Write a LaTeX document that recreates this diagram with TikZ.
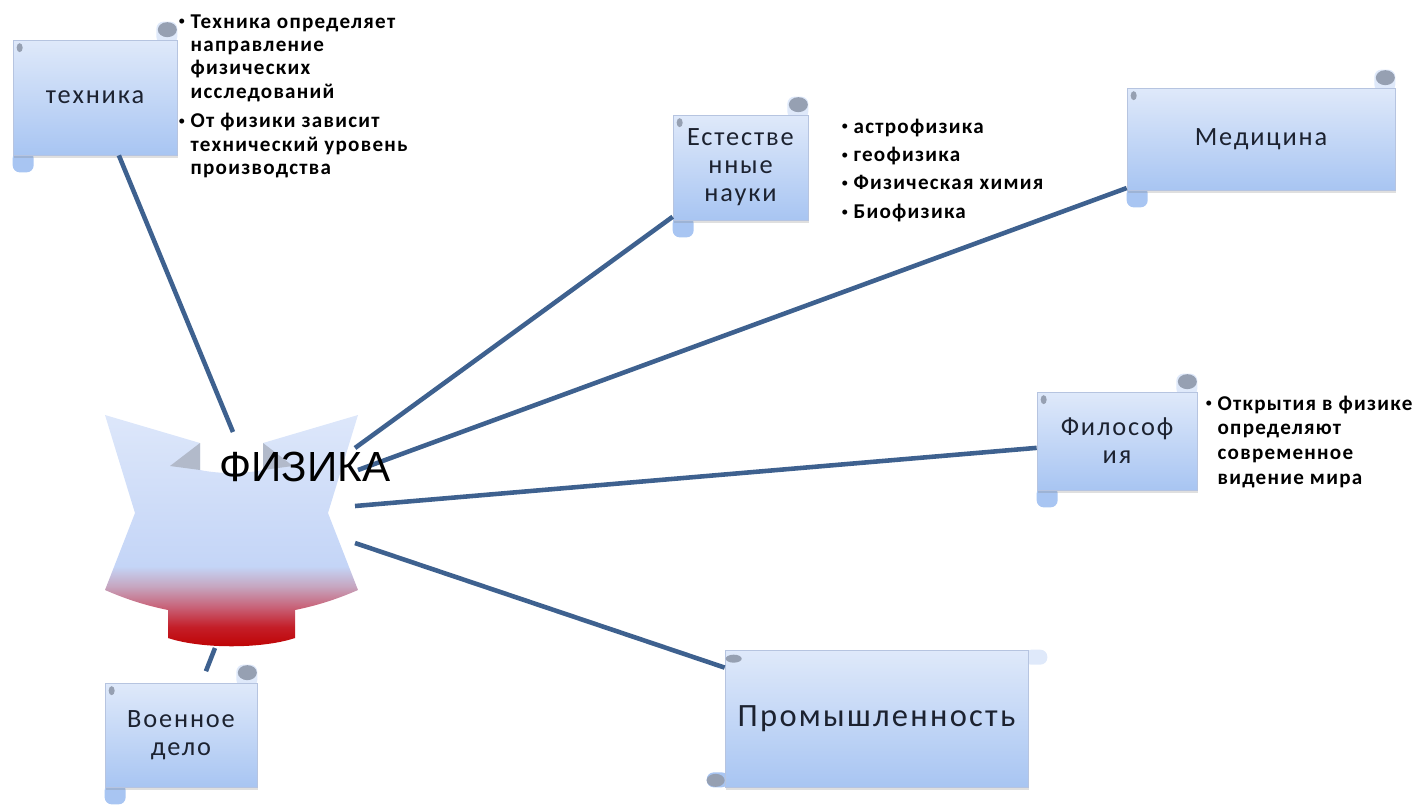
\documentclass[tikz,border=0pt]{standalone}
\usepackage{fontspec}
\setmainfont{Carlito}
\newfontfamily\arialfont{Liberation Sans}
\usetikzlibrary{calc,backgrounds,shadows}

\definecolor{scrolltop}{RGB}{223,233,250}
\definecolor{scrollbot}{RGB}{168,197,242}
\definecolor{scrolledge}{RGB}{182,196,224}
\definecolor{curlgrey}{RGB}{150,160,178}
\definecolor{foldgrey}{RGB}{178,186,202}
\definecolor{linkblue}{RGB}{62,97,143}
\definecolor{labeltext}{RGB}{28,34,48}
\definecolor{physA}{RGB}{190,0,0}
\definecolor{physB}{RGB}{196,30,40}
\definecolor{physC}{RGB}{200,100,122}
\definecolor{physD}{RGB}{198,166,192}
\definecolor{physE}{RGB}{196,213,247}
\definecolor{physF}{RGB}{221,231,250}

\pgfdeclareverticalshading{physfill}{100bp}{color(0bp)=(physA); color(25bp)=(physA);
  color(29.7bp)=(physB); color(34.1bp)=(physC); color(38.4bp)=(physD);
  color(42.7bp)=(physE); color(75bp)=(physF); color(100bp)=(physF)}

\tikzset{
  scroll/.style={rectangle, draw=scrolledge, line width=0.4pt,
    top color=scrolltop, bottom color=scrollbot, align=center, text=labeltext,
    font=\addfontfeature{LetterSpace=7}\fontsize{15}{16}\selectfont, inner sep=2pt,
    drop shadow={opacity=0.25, shadow xshift=0.6pt, shadow yshift=-1.6pt}},
  tabtop/.style={fill=scrolltop},
  tabbot/.style={fill=scrollbot},
  curl/.style={fill=curlgrey},
  link/.style={draw=linkblue, line width=2.6pt},
  notes/.style={anchor=base west, inner sep=0pt, text=black},
}

\newcommand{\bul}{\raisebox{0.1em}{\mdseries\fontsize{8}{8}\selectfont •}}

% rolled ends of an upright scroll
\newcommand{\vcurls}[1]{%
  \begin{scope}[on background layer]
    \fill[tabtop, rounded corners=4pt] ($(#1.north east)+(-21,4)$) rectangle ($(#1.north east)+(0,-18)$);
    \fill[tabbot, rounded corners=4pt] ($(#1.south west)+(0,-4)$) rectangle ($(#1.south west)+(21,17)$);
  \end{scope}
  \fill[curl] ($(#1.north east)+(-10,-10)$) ellipse[x radius=9.5, y radius=7.5];
  \fill[curl] ($(#1.north west)+(7,8)$) ellipse[x radius=3, y radius=4.5];
}
% rolled ends of a lying scroll
\newcommand{\hcurls}[1]{%
  \begin{scope}[on background layer]
    \fill[tabtop, rounded corners=4pt] ($(#1.north east)+(-4,0)$) rectangle ($(#1.north east)+(19,15)$);
    \fill[tabbot, rounded corners=4pt] ($(#1.south west)+(-18,-15)$) rectangle ($(#1.south west)+(4,0)$);
  \end{scope}
  \fill[curl] ($(#1.south west)+(-9,-7)$) ellipse[x radius=9, y radius=6.5];
  \fill[curl] ($(#1.north west)+(9,9)$) ellipse[x radius=8, y radius=4];
}

\begin{document}
\begin{tikzpicture}[x=0.02cm, y=-0.02cm]
\useasboundingbox (0,0) rectangle (1416,806);

% central figure
\shade[shading=physfill] (105,415) -- (200,443) -- (200,470) .. controls (220,474) and (243,474) .. (263,470)
  -- (263,443) -- (358,415) -- (328,513) -- (358,590) .. controls (335,600) and (315,606) .. (295,610)
  -- (295,638) .. controls (262,649) and (201,649) .. (168,638) -- (168,610)
  .. controls (148,606) and (128,600) .. (105,590) -- (135,513) -- cycle;
\fill[foldgrey] (200,443) -- (170,466) -- (200,470) -- cycle;
\fill[foldgrey] (263,443) -- (293,466) -- (263,470) -- cycle;

\coordinate (hT) at (233,432);
\coordinate (hN) at (355,448);
\coordinate (hM) at (358,470);
\coordinate (hP) at (355,506);
\coordinate (hI) at (355,543);
\coordinate (hW) at (215,648);

% scrolls
\node[scroll, minimum width=3.28cm, minimum height=2.3cm] (tech) at (95,97.5) {техника};
\node[scroll, minimum width=2.7cm, minimum height=2.1cm] (nat) at (740.5,167.5) {Естестве\\нные\\науки};
\node[scroll, minimum width=5.36cm, minimum height=2.04cm] (med) at (1261,139) {Медицина};
\node[scroll, minimum width=3.2cm, minimum height=1.96cm] (phil) at (1117,441) {Философ\\ия};
\node[scroll, minimum width=3.04cm, minimum height=2.08cm] (mil) at (181,735) {Военное\\дело};
\node[scroll, minimum width=6.06cm, minimum height=2.74cm,
  font=\addfontfeature{LetterSpace=7}\fontsize{18.5}{20}\selectfont] (ind) at (876.5,718.5) {Промышленность};
\vcurls{tech}
\vcurls{nat}
\vcurls{med}
\vcurls{phil}
\vcurls{mil}
\hcurls{ind}

\draw[link] (hT) -- (tech);
\draw[link] (hN) -- (nat);
\draw[link] (hM) -- (med);
\draw[link] (hP) -- (phil);
\draw[link] (hI) -- (ind);
\draw[link, shorten >=7pt] (hW) -- (mil);

\node[font=\arialfont\fontsize{24}{24}\selectfont] (phys) at (305,467) {ФИЗИКА};

% notes
\node[notes, font=\bfseries\addfontfeature{LetterSpace=6}\fontsize{12}{13.3}\selectfont] (techNotes) at (178,28) {%
\begin{tabular}[t]{@{}l@{\hspace{3pt}}l@{}}
\bul&Техника определяет\\
&направление\\
&физических\\
&исследований\\[3.7pt]
\bul&От физики зависит\\
&технический  уровень\\
&производства
\end{tabular}};
\node[notes, font=\bfseries\addfontfeature{LetterSpace=6}\fontsize{12}{16.2}\selectfont] (natNotes) at (841,133) {%
\begin{tabular}[t]{@{}l@{\hspace{3pt}}l@{}}
\bul&астрофизика\\
\bul&геофизика\\
\bul&Физическая химия\\
\bul&Биофизика
\end{tabular}};
\node[notes, font=\bfseries\addfontfeature{LetterSpace=6}\fontsize{12}{14.2}\selectfont] (philNotes) at (1205,410) {%
\begin{tabular}[t]{@{}l@{\hspace{3pt}}l@{}}
\bul&Открытия в физике\\
&определяют\\
&современное\\
&видение мира
\end{tabular}};
\end{tikzpicture}
\end{document}
